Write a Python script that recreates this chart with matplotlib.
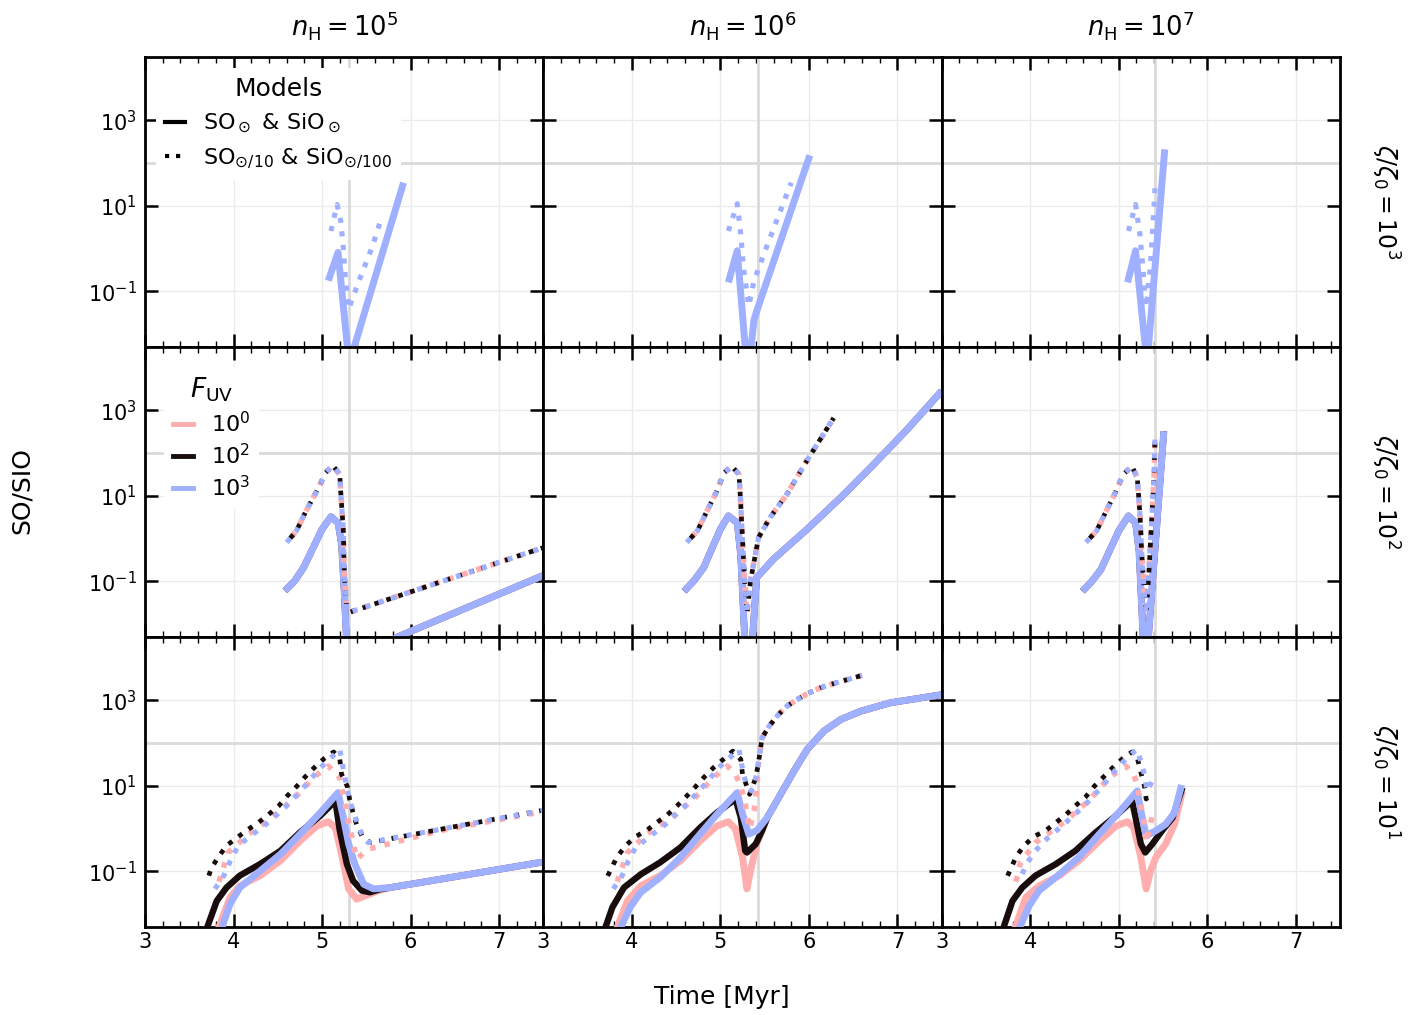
import numpy as np
import matplotlib.pyplot as plt
from matplotlib.lines import Line2D
from matplotlib.ticker import FixedLocator, MultipleLocator, NullLocator, LogFormatterMathtext

plt.rcParams['font.family'] = 'DejaVu Sans'
plt.rcParams['mathtext.fontset'] = 'dejavusans'

# grid: columns are n_H, rows are zeta/zeta0
nh_exp = [5, 6, 7]
zeta_exp = [3, 2, 1]
fuv_labels = [r'$10^0$', r'$10^2$', r'$10^3$']
fuv_colors = ['#ffadad', '#180c0c', '#9eb0ff']
t_mark = [5.30, 5.42, 5.41]   # grey vertical marker in each column
ratio_ref = 100

# ---- zeta = 1e3 (only F_UV = 1e3 shown) ----
t_z3_n5_sol = [5.07, 5.18, 5.305, 5.92]
lg_z3_n5_sol = [-0.75, -0.09, -2.7, 1.54]
t_z3_n5_dot = [5.10, 5.17, 5.21, 5.24, 5.26, 5.30, 5.41, 5.57, 5.66]
lg_z3_n5_dot = [0.41, 1.03, 0.65, 0.02, -0.60, -1.41, -0.79, 0.06, 0.65]
t_z3_n6_sol = [5.09, 5.19, 5.30, 5.33, 5.38, 5.42, 6.01]
lg_z3_n6_sol = [-0.79, -0.05, -2.8, -2.6, -1.66, -1.40, 2.18]
t_z3_n6_dot = [5.09, 5.19, 5.23, 5.26, 5.32, 5.38, 5.54, 5.80]
lg_z3_n6_dot = [0.41, 1.05, 0.34, -0.44, -1.34, -0.75, 0.14, 1.54]
t_z3_n7_sol = [5.10, 5.19, 5.32, 5.52]
lg_z3_n7_sol = [-0.79, -0.05, -2.7, 2.32]
t_z3_n7_dot = [5.11, 5.19, 5.24, 5.28, 5.31, 5.36, 5.41]
lg_z3_n7_dot = [0.41, 1.03, 0.32, -0.61, -1.37, -0.37, 1.41]

# ---- zeta = 1e2 (all F_UV coincide) ----
t_z2_n5_sol = [4.58, 4.69, 4.79, 4.90, 5.00, 5.10, 5.18, 5.22, 5.25, 5.29, 5.30, 5.84, 7.50]
lg_z2_n5_sol = [-1.22, -0.99, -0.68, -0.21, 0.22, 0.51, 0.37, -0.13, -1.22, -3.0, -3.6, -2.31, -0.86]
t_z2_n5_dot = [4.60, 4.71, 4.82, 4.90, 4.97, 5.04, 5.12, 5.20, 5.21, 5.24, 5.25, 5.28, 5.30, 7.50]
lg_z2_n5_dot = [-0.09, 0.18, 0.65, 0.96, 1.23, 1.54, 1.71, 1.50, 1.11, 0.18, -0.75, -1.69, -1.73, -0.21]
t_z2_n6_sol = [4.59, 4.70, 4.81, 5.00, 5.09, 5.19, 5.23, 5.29, 5.34, 5.41, 5.60, 5.98, 6.36, 6.73, 7.11, 7.50]
lg_z2_n6_sol = [-1.23, -0.99, -0.68, 0.22, 0.53, 0.37, -0.40, -3.0, -3.0, -0.91, -0.48, 0.22, 0.96, 1.73, 2.55, 3.45]
t_z2_n6_dot = [4.62, 4.74, 4.85, 4.96, 5.04, 5.13, 5.21, 5.23, 5.25, 5.27, 5.30, 5.34, 5.43, 5.56, 5.75, 5.98, 6.28]
lg_z2_n6_dot = [-0.09, 0.18, 0.65, 1.11, 1.54, 1.69, 1.50, 0.80, -0.05, -0.83, -1.76, -0.99, 0.02, 0.49, 1.03, 1.83, 2.82]
t_z2_n7_sol = [4.59, 4.70, 4.80, 5.00, 5.11, 5.19, 5.23, 5.28, 5.31, 5.51]
lg_z2_n7_sol = [-1.23, -0.99, -0.72, 0.18, 0.53, 0.37, -0.30, -2.5, -3.0, 2.51]
t_z2_n7_dot = [4.63, 4.75, 4.86, 4.97, 5.05, 5.15, 5.21, 5.24, 5.26, 5.29, 5.31, 5.34, 5.37, 5.40, 5.41]
lg_z2_n7_dot = [-0.09, 0.18, 0.65, 1.11, 1.50, 1.69, 1.42, 0.57, -0.36, -1.30, -1.76, -0.83, 0.34, 1.50, 2.35]

# ---- zeta = 1e1, nH = 1e5 ----
t_z1_n5_sol_f0 = [3.79, 3.96, 4.07, 4.30, 4.53, 4.75, 4.94, 5.07, 5.15, 5.22, 5.30, 5.39, 5.54, 5.65, 5.77, 6.52, 7.50]
lg_z1_n5_sol_f0 = [-2.55, -1.61, -1.34, -1.10, -0.75, -0.29, 0.06, 0.16, 0.02, -0.60, -1.41, -1.65, -1.53, -1.44, -1.38, -1.12, -0.78]
t_z1_n5_sol_f2 = [3.66, 3.81, 3.92, 4.07, 4.30, 4.53, 4.75, 4.98, 5.15, 5.20, 5.28, 5.35, 5.45, 5.54, 5.65, 5.77, 6.52, 7.50]
lg_z1_n5_sol_f2 = [-2.55, -1.69, -1.38, -1.10, -0.83, -0.52, -0.09, 0.30, 0.65, -0.05, -0.83, -1.22, -1.45, -1.49, -1.42, -1.38, -1.12, -0.78]
t_z1_n5_sol_f3 = [3.83, 3.96, 4.07, 4.30, 4.53, 4.75, 4.98, 5.18, 5.24, 5.30, 5.37, 5.47, 5.58, 5.77, 6.52, 7.50]
lg_z1_n5_sol_f3 = [-2.55, -1.76, -1.38, -0.99, -0.60, -0.13, 0.37, 0.84, 0.26, -0.36, -0.83, -1.30, -1.41, -1.38, -1.12, -0.78]
t_z1_n5_dot_f0 = [3.81, 3.85, 3.94, 4.17, 4.41, 4.68, 4.90, 5.07, 5.20, 5.26, 5.32, 5.39, 5.52, 6.33, 7.50]
lg_z1_n5_dot_f0 = [-1.41, -1.14, -0.56, -0.13, 0.22, 0.69, 1.19, 1.46, 1.19, 0.57, -0.05, -0.71, -0.48, -0.05, 0.40]
t_z1_n5_dot_f2 = [3.70, 3.75, 3.83, 3.92, 4.04, 4.15, 4.28, 4.39, 4.51, 4.60, 4.71, 4.81, 4.91, 5.02, 5.13,
                  5.20, 5.22, 5.29, 5.31, 5.35, 5.39, 5.45, 5.54, 6.33, 7.50]
lg_z1_n5_dot_f2 = [-1.22, -0.92, -0.66, -0.40, -0.21, -0.04, 0.14, 0.32, 0.53, 0.75, 0.98, 1.21, 1.42, 1.63, 1.79,
                   1.62, 1.27, 0.96, 0.69, 0.37, 0.09, -0.17, -0.33, -0.02, 0.43]
t_z1_n5_dot_f3 = [3.79, 3.89, 3.96, 4.04, 4.13, 4.36, 4.58, 4.79, 4.98, 5.20, 5.25, 5.30, 5.36, 5.44, 5.52, 6.33, 7.50]
lg_z1_n5_dot_f3 = [-1.41, -1.10, -0.77, -0.45, -0.27, 0.09, 0.49, 0.96, 1.42, 1.85, 1.27, 0.76, 0.34, -0.09, -0.33, -0.02, 0.43]

# ---- zeta = 1e1, nH = 1e6 ----
t_z1_n6_sol_f0 = [3.79, 3.95, 4.10, 4.32, 4.55, 4.77, 4.96, 5.09, 5.17, 5.25, 5.30, 5.34, 5.41, 5.48,
                  5.53, 5.68, 5.83, 5.98, 6.17, 6.36, 6.58, 6.92, 7.50]
lg_z1_n6_sol_f0 = [-2.55, -1.69, -1.34, -1.10, -0.75, -0.29, 0.06, 0.16, -0.01, -0.67, -1.41, -0.99, -0.36, 0.00,
                   0.26, 0.80, 1.34, 1.85, 2.28, 2.55, 2.74, 2.94, 3.13]
t_z1_n6_sol_f2 = [3.66, 3.78, 3.91, 4.10, 4.32, 4.55, 4.77, 4.96, 5.17, 5.23, 5.28, 5.30, 5.40, 5.47,
                  5.53, 5.68, 5.83, 5.98, 6.17, 6.36, 6.58, 6.92, 7.50]
lg_z1_n6_sol_f2 = [-2.55, -1.84, -1.38, -1.07, -0.79, -0.44, 0.02, 0.37, 0.69, 0.26, -0.52, -0.56, -0.36, -0.05,
                   0.26, 0.80, 1.34, 1.85, 2.28, 2.55, 2.74, 2.94, 3.13]
t_z1_n6_sol_f3 = [3.83, 3.98, 4.10, 4.32, 4.55, 4.77, 4.96, 5.19, 5.25, 5.32, 5.41,
                  5.53, 5.68, 5.83, 5.98, 6.17, 6.36, 6.58, 6.92, 7.50]
lg_z1_n6_sol_f3 = [-2.50, -1.84, -1.49, -1.14, -0.67, -0.13, 0.33, 0.84, 0.34, -0.13, -0.05,
                   0.26, 0.80, 1.34, 1.85, 2.28, 2.55, 2.74, 2.94, 3.13]
t_z1_n6_dot_f0 = [3.81, 3.85, 3.95, 4.17, 4.43, 4.70, 4.92, 5.08, 5.17, 5.23, 5.28, 5.33, 5.38, 5.41, 5.43,
                  5.47, 5.55, 5.64, 5.75, 5.87, 5.98, 6.13, 6.28, 6.43, 6.60]
lg_z1_n6_dot_f0 = [-1.41, -1.14, -0.56, -0.13, 0.22, 0.69, 1.19, 1.46, 1.27, 1.00, 0.57, -0.01, 0.41, 0.96, 1.54,
                   2.12, 2.39, 2.63, 2.86, 3.02, 3.15, 3.29, 3.39, 3.48, 3.58]
t_z1_n6_dot_f2 = [3.70, 3.83, 3.93, 4.04, 4.17, 4.28, 4.40, 4.51, 4.62, 4.72, 4.82, 4.92, 5.04, 5.14, 5.23, 5.25,
                  5.33, 5.40, 5.43, 5.47, 5.55, 5.64, 5.75, 5.87, 5.98, 6.13, 6.28, 6.43, 6.60]
lg_z1_n6_dot_f2 = [-1.22, -0.67, -0.40, -0.19, -0.04, 0.14, 0.32, 0.53, 0.76, 0.98, 1.21, 1.42, 1.63, 1.81, 1.62, 1.27,
                   0.80, 1.19, 1.54, 2.12, 2.39, 2.63, 2.86, 3.02, 3.15, 3.29, 3.39, 3.48, 3.58]
t_z1_n6_dot_f3 = [3.79, 3.89, 3.96, 4.04, 4.15, 4.38, 4.60, 4.81, 5.00, 5.21, 5.26, 5.30, 5.35, 5.40, 5.43,
                  5.47, 5.55, 5.64, 5.75, 5.87, 5.98, 6.13, 6.28, 6.43, 6.60]
lg_z1_n6_dot_f3 = [-1.41, -1.10, -0.75, -0.45, -0.27, 0.10, 0.53, 1.00, 1.46, 1.85, 1.27, 1.00, 0.88, 1.19, 1.54,
                   2.12, 2.39, 2.63, 2.86, 3.02, 3.15, 3.29, 3.39, 3.48, 3.58]

# ---- zeta = 1e1, nH = 1e7 ----
t_z1_n7_sol_f0 = [3.79, 3.95, 4.10, 4.33, 4.55, 4.78, 4.97, 5.10, 5.17, 5.25, 5.31, 5.36, 5.42, 5.53, 5.63, 5.72]
lg_z1_n7_sol_f0 = [-2.55, -1.61, -1.34, -1.10, -0.75, -0.29, 0.06, 0.16, 0.02, -0.67, -1.41, -0.99, -0.67, -0.36, 0.10, 0.88]
t_z1_n7_sol_f2 = [3.66, 3.80, 3.91, 4.06, 4.29, 4.51, 4.74, 4.97, 5.15, 5.19, 5.25, 5.30, 5.38, 5.49, 5.61, 5.72]
lg_z1_n7_sol_f2 = [-2.55, -1.69, -1.38, -1.10, -0.83, -0.52, -0.09, 0.30, 0.65, 0.26, -0.36, -0.56, -0.36, -0.05, 0.26, 0.96]
t_z1_n7_sol_f3 = [3.83, 3.99, 4.10, 4.33, 4.55, 4.78, 5.00, 5.21, 5.25, 5.31, 5.42, 5.53, 5.63, 5.71]
lg_z1_n7_sol_f3 = [-2.55, -1.80, -1.45, -1.07, -0.67, -0.13, 0.37, 0.88, 0.41, -0.17, -0.05, 0.10, 0.37, 1.02]
t_z1_n7_dot_f0 = [3.82, 3.89, 4.06, 4.40, 4.66, 4.89, 5.08, 5.17, 5.21, 5.29, 5.31, 5.38]
lg_z1_n7_dot_f0 = [-1.41, -0.79, -0.33, 0.18, 0.65, 1.19, 1.46, 1.27, 1.00, 0.10, -0.33, 0.30]
t_z1_n7_dot_f2 = [3.72, 3.84, 3.93, 4.04, 4.18, 4.29, 4.40, 4.51, 4.63, 4.72, 4.83, 4.93, 5.04, 5.15,
                  5.21, 5.25, 5.29, 5.31, 5.38]
lg_z1_n7_dot_f2 = [-1.22, -0.66, -0.40, -0.19, -0.04, 0.14, 0.32, 0.53, 0.75, 0.98, 1.21, 1.42, 1.63, 1.79,
                   1.65, 1.31, 1.00, 0.69, 0.86]
t_z1_n7_dot_f3 = [3.91, 3.97, 4.06, 4.16, 4.38, 4.61, 4.82, 5.00, 5.20, 5.25, 5.29, 5.32, 5.39]
lg_z1_n7_dot_f3 = [-1.06, -0.79, -0.52, -0.29, 0.10, 0.53, 1.00, 1.46, 1.85, 1.58, 1.27, 0.88, 1.15]

# (row, col) -> (solid curves, dotted curves); each curve is (F_UV index, t, log10 ratio)
panels = {
    (0, 0): ([(2, t_z3_n5_sol, lg_z3_n5_sol)], [(2, t_z3_n5_dot, lg_z3_n5_dot)]),
    (0, 1): ([(2, t_z3_n6_sol, lg_z3_n6_sol)], [(2, t_z3_n6_dot, lg_z3_n6_dot)]),
    (0, 2): ([(2, t_z3_n7_sol, lg_z3_n7_sol)], [(2, t_z3_n7_dot, lg_z3_n7_dot)]),
    (1, 0): ([(k, t_z2_n5_sol, lg_z2_n5_sol) for k in range(3)],
             [(k, t_z2_n5_dot, lg_z2_n5_dot) for k in range(3)]),
    (1, 1): ([(k, t_z2_n6_sol, lg_z2_n6_sol) for k in range(3)],
             [(k, t_z2_n6_dot, lg_z2_n6_dot) for k in range(3)]),
    (1, 2): ([(k, t_z2_n7_sol, lg_z2_n7_sol) for k in range(3)],
             [(k, t_z2_n7_dot, lg_z2_n7_dot) for k in range(3)]),
    (2, 0): ([(0, t_z1_n5_sol_f0, lg_z1_n5_sol_f0), (1, t_z1_n5_sol_f2, lg_z1_n5_sol_f2),
              (2, t_z1_n5_sol_f3, lg_z1_n5_sol_f3)],
             [(0, t_z1_n5_dot_f0, lg_z1_n5_dot_f0), (1, t_z1_n5_dot_f2, lg_z1_n5_dot_f2),
              (2, t_z1_n5_dot_f3, lg_z1_n5_dot_f3)]),
    (2, 1): ([(0, t_z1_n6_sol_f0, lg_z1_n6_sol_f0), (1, t_z1_n6_sol_f2, lg_z1_n6_sol_f2),
              (2, t_z1_n6_sol_f3, lg_z1_n6_sol_f3)],
             [(0, t_z1_n6_dot_f0, lg_z1_n6_dot_f0), (1, t_z1_n6_dot_f2, lg_z1_n6_dot_f2),
              (2, t_z1_n6_dot_f3, lg_z1_n6_dot_f3)]),
    (2, 2): ([(0, t_z1_n7_sol_f0, lg_z1_n7_sol_f0), (1, t_z1_n7_sol_f2, lg_z1_n7_sol_f2),
              (2, t_z1_n7_sol_f3, lg_z1_n7_sol_f3)],
             [(0, t_z1_n7_dot_f0, lg_z1_n7_dot_f0), (1, t_z1_n7_dot_f2, lg_z1_n7_dot_f2),
              (2, t_z1_n7_dot_f3, lg_z1_n7_dot_f3)]),
}

sol_lw = [5.0, 4.6, 5.0]
dot_lw = [4.0, 3.4, 3.7]
dot_ls = [(1.3, (1, 1.65)), (1.5, (1, 1.65)), (0, (1, 1.65))]

fig, axes = plt.subplots(3, 3, figsize=(14.18, 10.15), dpi=100, sharex=True, sharey=True)
fig.subplots_adjust(left=0.1023, right=0.945, top=0.9438, bottom=0.0867, wspace=0, hspace=0)

for r in range(3):
    for c in range(3):
        ax = axes[r, c]
        ax.set_yscale('log')
        ax.axhline(ratio_ref, color='#dadada', lw=2, zorder=1.6)
        ax.axvline(t_mark[c], color='#dadada', lw=2, zorder=1.6)
        sols, dots = panels[(r, c)]
        for k, t, lg in sols:
            ax.plot(t, 10 ** np.array(lg), color=fuv_colors[k], lw=sol_lw[k],
                    solid_capstyle='butt', zorder=3)
        for k, t, lg in dots:
            ax.plot(t, 10 ** np.array(lg), color=fuv_colors[k], lw=dot_lw[k],
                    ls=dot_ls[k], zorder=4)

        ax.set_xlim(3, 7.5)
        ax.set_ylim(5e-3, 3e4)
        ax.yaxis.set_major_locator(FixedLocator([1e-1, 1e1, 1e3]))
        ax.yaxis.set_minor_locator(NullLocator())
        ax.yaxis.set_major_formatter(LogFormatterMathtext())
        ax.xaxis.set_major_locator(MultipleLocator(1))
        ax.xaxis.set_minor_locator(MultipleLocator(0.2))
        ax.tick_params(which='both', direction='in', top=True, right=True)
        ax.tick_params(which='major', length=9.5, width=1.8, labelsize=15)
        ax.tick_params(axis='y', which='major', pad=6)
        ax.tick_params(which='minor', length=4.3, width=1.0)
        ax.grid(True, which='major', color='#ebebeb', lw=1)
        for s in ax.spines.values():
            s.set_linewidth(2)

        if r == 0:
            ax.text(0.5, 1.11, r'$n_{\rm H} = 10^{%d}$' % nh_exp[c], transform=ax.transAxes,
                    ha='center', va='center', fontsize=18.5)
        if c == 2:
            ax.text(1.113, 0.5, r'$\zeta/\zeta_0 = 10^{%d}$' % zeta_exp[r], transform=ax.transAxes,
                    ha='center', va='center', rotation=270, fontsize=17)

fig.text(0.509, 0.0177, 'Time [Myr]', ha='center', va='center', fontsize=18)
fig.text(0.0155, 0.517, 'SO/SIO', ha='center', va='center', rotation=90, fontsize=18)

model_handles = [Line2D([], [], color='k', lw=3, ls='-'), Line2D([], [], color='k', lw=3, ls=':')]
model_labels = [r'SO$_\odot$ & SiO$_\odot$', r'SO$_{\odot/10}$ & SiO$_{\odot/100}$']
leg1 = axes[0, 0].legend(model_handles, model_labels, title='Models', loc='upper left',
                         fontsize=16, title_fontsize=18, handlelength=0.9, frameon=True,
                         facecolor='white', edgecolor='none', framealpha=1)

fuv_handles = [Line2D([], [], color=col, lw=3.5) for col in fuv_colors]
leg2 = axes[1, 0].legend(fuv_handles, fuv_labels, title=r'$F_{\rm UV}$', loc='upper left',
                         bbox_to_anchor=(0.02, 0.97), fontsize=16, title_fontsize=19,
                         handlelength=0.9, labelspacing=0.3, frameon=True, facecolor='white',
                         edgecolor='none', framealpha=1)

fig.savefig('out.png', dpi=100)
